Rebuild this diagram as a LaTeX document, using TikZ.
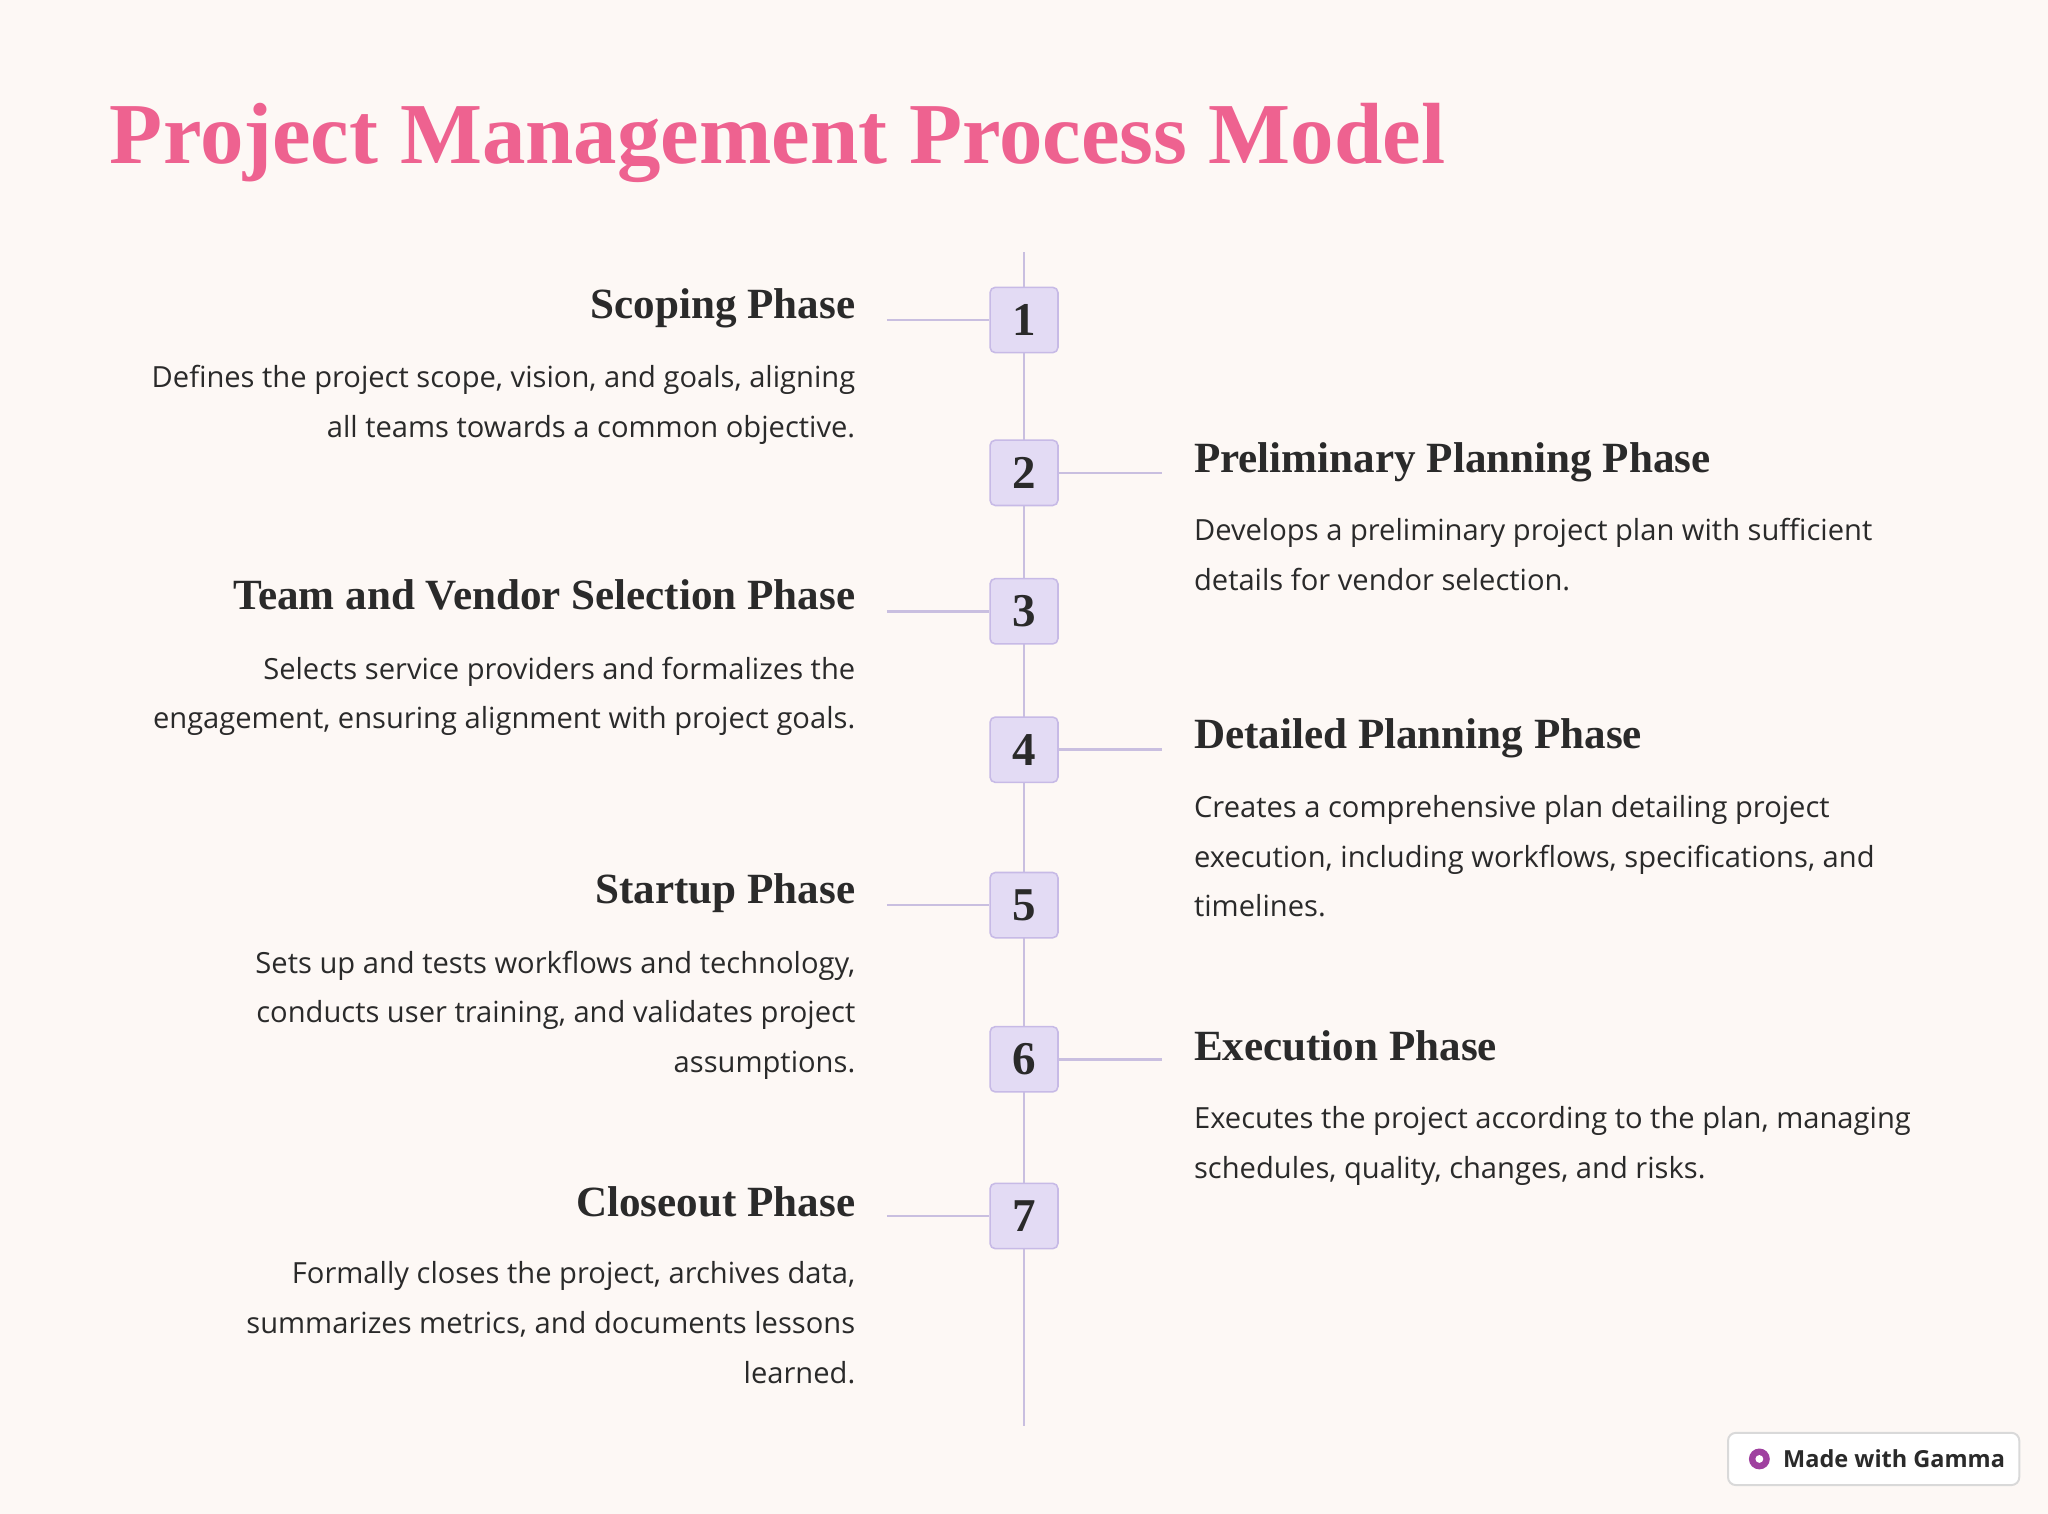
\documentclass[tikz,border=0pt]{standalone}
\usepackage{fontspec}
\setmainfont{Open Sans}
\newfontfamily\serifb{Liberation Serif}
\definecolor{bg}{HTML}{FDF8F5}
\definecolor{pinkt}{HTML}{EE6290}
\definecolor{linec}{HTML}{C9BFE0}
\definecolor{boxf}{HTML}{E3DBF4}
\definecolor{boxd}{HTML}{C7BAE6}
\definecolor{txt}{HTML}{2A2A2A}
\tikzset{
 numbox/.style={draw=boxd,fill=boxf,rounded corners=4pt,minimum width=52pt,minimum height=50pt,inner sep=0pt,line width=1.2pt,font=\serifb\bfseries\fontsize{36}{36}\selectfont,text=txt},
 conn/.style={draw=linec,line width=2pt},
 headl/.style={anchor=base east,font=\serifb\bfseries\fontsize{33}{36}\selectfont,text=txt,inner sep=0pt},
 headr/.style={anchor=base west,font=\serifb\bfseries\fontsize{33}{36}\selectfont,text=txt,inner sep=0pt},
 bodyl/.style={anchor=base east,align=right,font=\fontsize{22.3}{38}\selectfont,text=txt,inner sep=0pt},
 bodyr/.style={anchor=base west,align=left,font=\fontsize{22.3}{38}\selectfont,text=txt,inner sep=0pt},
}
\begin{document}
\begin{tikzpicture}[x=1pt,y=-1pt]
\fill[bg] (0,0) rectangle (1568,1159);
\useasboundingbox (0,0) rectangle (1568,1159);
\node[anchor=base west,inner sep=0pt,text=pinkt,font=\serifb\bfseries\fontsize{66.5}{70}\selectfont] (title) at (84,125) {Project Management Process Model};
\coordinate (top) at (784,193);
\coordinate (bot) at (784,1092);
\draw[conn] (top) -- (bot);
\foreach \n/\y in {1/245,2/362,3/468,4/574,5/693,6/811,7/931}{
  \node[numbox] (b\n) at (784,\y) {\n};
}
\foreach \n/\y in {1/245,3/468,5/693,7/931}{
  \coordinate (c\n) at (679,\y);
  \draw[conn] (c\n) -- (b\n.west);
}
\foreach \n/\y in {2/362,4/574,6/811}{
  \coordinate (c\n) at (890,\y);
  \draw[conn] (b\n.east) -- (c\n);
}
\node[headl] (h1) at (655,244) {Scoping Phase};
\node[bodyl] (t1) at (655,335) {Defines the project scope, vision, and goals, aligning\\all teams towards a common objective.};
\node[headr] (h2) at (914,362) {Preliminary Planning Phase};
\node[bodyr] (t2) at (914,452) {Develops a preliminary project plan with sufficient\\details for vendor selection.};
\node[headl] (h3) at (655,467) {Team and Vendor Selection Phase};
\node[bodyl] (t3) at (655,558) {Selects service providers and formalizes the\\engagement, ensuring alignment with project goals.};
\node[headr] (h4) at (914,573) {Detailed Planning Phase};
\node[bodyr] (t4) at (914,702) {Creates a comprehensive plan detailing project\\execution, including workflows, specifications, and\\timelines.};
\node[headl] (h5) at (655,692) {Startup Phase};
\node[bodyl] (t5) at (655,821) {Sets up and tests workflows and technology,\\conducts user training, and validates project\\assumptions.};
\node[headr] (h6) at (914,812) {Execution Phase};
\node[bodyr] (t6) at (914,902) {Executes the project according to the plan, managing\\schedules, quality, changes, and risks.};
\node[headl] (h7) at (655,931) {Closeout Phase};
\node[bodyl] (t7) at (655,1059) {Formally closes the project, archives data,\\summarizes metrics, and documents lessons\\learned.};
\node[draw=black!15,fill=white,rounded corners=6pt,line width=1.5pt,minimum width=223pt,minimum height=40pt] (badge) at (1434.5,1117) {};
\fill[violet!75] (1347,1117) circle (8pt);
\fill[white] (1347,1117) circle (3pt);
\node[anchor=west,inner sep=0pt,font=\fontsize{18}{20}\selectfont\bfseries,text=txt] (bt) at (1365,1117) {Made with Gamma};
\end{tikzpicture}
\end{document}
